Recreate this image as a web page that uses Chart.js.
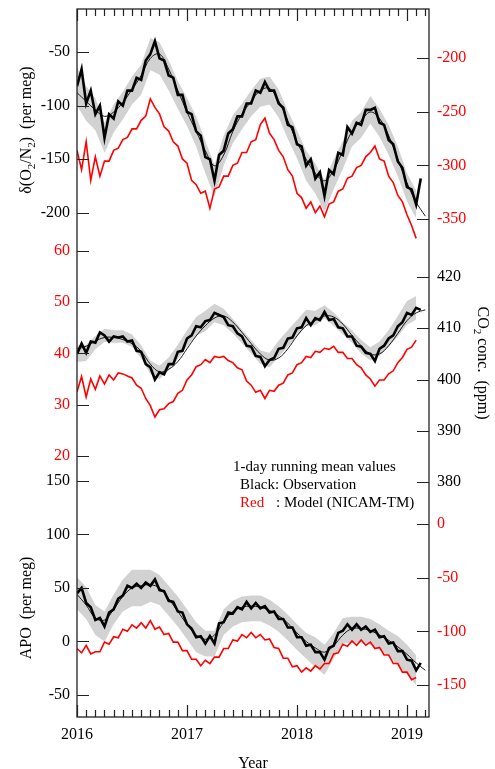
<!DOCTYPE html>
<html>
<head>
<meta charset="utf-8">
<script src="https://cdn.jsdelivr.net/npm/chart.js@4.4.1/dist/chart.umd.min.js"></script>
<style>
  html, body { margin: 0; background: #fff; }
  #wrap { position: relative; width: 495px; height: 769px; }
</style>
</head>
<body>
<div id="wrap"><canvas id="chart"></canvas></div>
<script>
"use strict";

// #region Data (half-monthly samples, from 2016.0)
const o2Obs = [-82,-66,-98,-86,-108,-100,-130,-108,-112,-96,-100,-86,-86,-74,-76,-58,-52,-40,-56,-58,-72,-74,-90,-90,
  -106,-108,-124,-128,-148,-150,-170,-146,-142,-126,-122,-110,-110,-98,-98,-86,-88,-78,-86,-86,-98,-102,-118,-120,
  -136,-138,-156,-150,-168,-162,-184,-160,-164,-144,-146,-120,-126,-116,-118,-104,-104,-102,-116,-118,-132,-136,-152,-158,
  -176,-178,-192,-168];
const o2Model = [-286,-304,-278,-314,-292,-310,-296,-296,-286,-284,-276,-274,-266,-266,-258,-254,-238,-246,-252,-264,-268,-278,-282,-294,
  -298,-314,-318,-326,-324,-340,-322,-320,-310,-310,-300,-298,-288,-288,-278,-276,-262,-256,-270,-276,-286,-292,-304,-310,
  -326,-330,-340,-334,-344,-338,-348,-336,-334,-324,-322,-312,-310,-302,-300,-292,-288,-282,-294,-296,-310,-316,-328,-334,
  -346,-356,-368,null];
const co2Obs = [405.0,407.0,405.2,407.4,407.2,409.2,408.6,407.4,408.4,408.2,408.4,407.4,407.6,405.6,405.4,403.0,402.4,400.0,401.4,401.0,403.0,403.0,405.4,405.6,
  408.0,408.6,410.4,410.2,411.4,411.6,413.0,412.6,412.2,410.6,410.4,409.0,408.4,406.6,406.4,404.6,404.4,402.6,403.8,404.2,406.0,406.2,408.0,408.2,
  410.0,410.2,412.0,410.6,412.0,411.6,413.2,411.6,411.8,410.2,410.0,408.4,408.4,406.6,406.4,405.2,405.0,403.6,406.0,406.6,408.0,408.6,410.4,411.2,
  413.0,412.6,414.0,413.6];
const co2Model = [32.5,35.5,31.5,35.0,33.0,35.6,34.0,35.8,34.8,36.2,36.0,35.6,35.2,33.8,33.2,31.2,29.8,27.6,29.0,29.2,30.2,30.6,32.2,32.8,
  34.8,35.8,37.4,37.8,38.8,38.2,39.4,39.2,39.4,38.6,38.2,37.2,36.8,34.6,33.8,32.4,32.8,31.2,32.8,32.6,33.8,34.2,35.8,36.2,
  37.8,38.2,39.4,39.2,40.4,40.2,41.0,40.8,41.4,40.2,40.2,39.0,39.0,37.8,37.2,35.8,35.0,33.6,34.8,34.8,36.0,36.6,38.2,39.2,
  40.8,41.2,42.6,null];
const apoObs = [45,50,36,32,20,22,14,27,30,40,43,52,50,54,50,55,52,58,48,47,38,37,28,27,
  16,12,4,5,-2,5,-2,17,18,27,26,32,30,37,31,36,31,33,27,28,21,21,13,13,
  4,4,-4,-3,-10,-10,-17,-6,-4,8,10,16,11,16,11,14,9,11,4,5,-2,-1,-9,-9,
  -17,-18,-27,-20];
const apoModel = [-116,-120,-113,-121,-119,-119,-110,-112,-105,-106,-98,-100,-94,-97,-92,-97,-90,-98,-96,-103,-102,-110,-110,-118,
  -118,-126,-126,-132,-127,-130,-124,-124,-116,-116,-108,-109,-103,-106,-101,-106,-103,-108,-107,-115,-116,-125,-125,-133,
  -132,-138,-134,-137,-132,-135,-130,-130,-121,-120,-112,-114,-109,-113,-108,-113,-110,-116,-115,-122,-122,-130,-130,-138,
  -138,-145,-143,null];

// smooth curve fitted to the observations, monthly from 2016.0
const o2Fit = [-88,-96,-104,-110,-106,-97,-85,-72,-56,-52,-66,-86, -106,-124,-142,-156,-146,-124,-108,-96,-86,-84,-96,-114,
  -134,-150,-163,-170,-160,-142,-124,-114,-106,-112,-128,-150, -172,-190,-203];
const co2Fit = [406,406.5,407.5,408.2,408.2,407.8,407,405.5,403,401.5,402,403.5, 406,408.5,410.5,412,412.4,411.2,409.2,407,405,403.8,404.2,406,
  408.5,410.5,411.5,412.4,412.2,410.8,408.6,406.6,405,405,406.6,409, 411.5,413,413.6];
const apoFit = [44,34,22,20,30,42,50,52,53,50,40,28, 16,6,2,6,18,28,32,33,32,29,24,17, 8,0,-6,-10,-4,6,12,12,10,6,1,-5, -12,-20,-27];

// half-width of the grey cloud of single measurements, monthly
const o2Spread = [18,16,15,14,13,13,13,14,15,15,14,13, 13,14,15,15,14,13,12,12,13,13,13,13, 13,14,14,15,14,13,12,12,13,13,14,14, 13,13];
const co2Spread = [1.6,1.6,1.3,1.3,1.2,1.2,1.2,1.3,1.3,1.3,1.3,1.4, 1.6,1.8,2.0,1.8,1.6,1.4,1.3,1.3,1.3,1.4,1.6,1.6,
  1.6,1.6,1.4,1.3,1.3,1.2,1.2,1.3,1.3,1.4,1.6,2.0, 2.3,2.3];
const apoSpread = [15,15,14,14,14,15,17,17,15,14,14,14, 14,14,12,12,12,12,12,12,12,12,12,12, 12,12,14,14,12,12,12,12,12,12,12,14, 14,14];

const yearTicks = [2016, 2017, 2018, 2019];
const o2Ticks = [-200, -150, -100, -50];
const o2ModelTicks = [-350, -300, -250, -200];
const co2ModelTicks = [20, 30, 40, 50, 60];
const co2Ticks = [380, 390, 400, 410, 420];
const apoTicks = [-50, 0, 50, 100, 150];
const apoModelTicks = [-150, -100, -50, 0];
// #endregion

const RED = "#ff0000";
const GREY = "#d2d2d2";
const SERIF = '"Liberation Serif", "Times New Roman", serif';
const tickFont = { family: SERIF, size: 16 };

// sampling grids: half-monthly for the running means, monthly for fits and ticks
const times = o2Obs.map((_, i) => 2016 + i / 24);
const monthTicks = o2Fit.map((_, m) => 2016 + m / 12);

const toPoints = (arr) => arr.map((v, i) => ({ x: times[i], y: v }));
const bandPoints = (obs, spread, sign) => spread.map((s, m) => ({ x: times[2 * m], y: obs[2 * m] + sign * s }));

// #region Datasets
function band(obs, spread, axis) {
    return [
        { data: bandPoints(obs, spread, 1), yAxisID: axis, borderWidth: 0, backgroundColor: GREY, fill: "+1", order: 4 },
        { data: bandPoints(obs, spread, -1), yAxisID: axis, borderWidth: 0, fill: false, order: 4 },
    ];
}
function line(values, axis, colour, width) {
    return { data: toPoints(values), yAxisID: axis, borderColor: colour, borderWidth: width, fill: false, order: colour === RED ? 3 : 2 };
}
function fit(values, axis) {
    return { data: values.map((v, m) => ({ x: monthTicks[m], y: v })), yAxisID: axis, borderColor: "#000", borderWidth: 0.9, fill: false, tension: 0.4, order: 1 };
}

const datasets = [
    ...band(o2Obs, o2Spread, "yO2"),
    ...band(co2Obs, co2Spread, "yCO2"),
    ...band(apoObs, apoSpread, "yApo"),
    line(o2Model, "yO2m", RED, 1.6),
    line(co2Model, "yCO2m", RED, 1.6),
    line(apoModel, "yApom", RED, 1.6),
    line(o2Obs, "yO2", "#000", 2.6),
    line(co2Obs, "yCO2", "#000", 2.6),
    line(apoObs, "yApo", "#000", 2.6),
    fit(o2Fit, "yO2"),
    fit(co2Fit, "yCO2"),
    fit(apoFit, "yApo"),
];
// #endregion

// #region Scales
function yAxis(position, min, max, ticks, colour, width) {
    return {
        type: "linear",
        position: position,
        min: min,
        max: max,
        weight: width ? 1 : 0,
        grid: { display: false, drawTicks: false },
        border: { display: false },
        ticks: { color: colour, font: tickFont, padding: position === "left" ? 7 : 8, callback: (v) => String(v) },
        afterBuildTicks: (s) => { s.ticks = ticks.map((v) => ({ value: v })); },
        afterFit: (s) => { s.width = width; s.paddingTop = 0; s.paddingBottom = 0; },
    };
}

const scales = {
    x: {
        type: "linear",
        min: 2016,
        max: 2019.2,
        grid: { display: false, drawTicks: false },
        border: { display: false },
        ticks: { color: "#000", font: tickFont, padding: 8, maxRotation: 0, callback: (v) => String(v) },
        afterBuildTicks: (s) => { s.ticks = yearTicks.map((v) => ({ value: v })); },
        afterFit: (s) => { s.height = 52; s.paddingLeft = 0; s.paddingRight = 0; },
        title: { display: true, text: "Year", color: "#000", font: { family: SERIF, size: 16 }, padding: { top: 0, bottom: -4 } },
    },
    yO2: yAxis("left", -669.6, -10, o2Ticks, "#000", 77),
    yCO2m: yAxis("left", -30.95, 107.2, co2ModelTicks, RED, 0),
    yApo: yAxis("left", -70.6, 591.1, apoTicks, "#000", 0),
    yO2m: yAxis("right", -813.9, -154.3, o2ModelTicks, RED, 66),
    yCO2: yAxis("right", 334.15, 472.3, co2Ticks, "#000", 0),
    yApom: yAxis("right", -179.8, 479.8, apoModelTicks, RED, 0),
};
// #endregion

// #region Frame, ticks, titles and key
function drawRich(ctx, parts, cx, cy, angle, size) {
    const big = `${size}px ${SERIF}`;
    const small = `${Math.round(size * 0.68)}px ${SERIF}`;
    ctx.save();
    ctx.translate(cx, cy);
    ctx.rotate(angle);
    let w = 0;
    parts.forEach((p) => { ctx.font = p.sub ? small : big; w += ctx.measureText(p.text).width; });
    let x = -w / 2;
    ctx.textBaseline = "middle";
    ctx.textAlign = "left";
    ctx.fillStyle = "#000";
    parts.forEach((p) => {
        ctx.font = p.sub ? small : big;
        ctx.fillText(p.text, x, p.sub ? size * 0.3 : 0);
        x += ctx.measureText(p.text).width;
    });
    ctx.restore();
}

const framePlugin = {
    id: "frame",
    // the panel axes share one side each: give every one the full label strip so labels are not clipped
    afterLayout(chart) {
        const a = chart.chartArea;
        Object.values(chart.scales).forEach((s) => {
            if (s.position === "left") { s.left = 0; s.right = a.left; }
            if (s.position === "right") { s.left = a.right; s.right = chart.width; }
        });
    },
    afterDraw(chart) {
        const { ctx, chartArea: a } = chart;
        ctx.save();
        ctx.strokeStyle = "#222";
        ctx.lineWidth = 1.3;
        ctx.strokeRect(a.left, a.top, a.right - a.left, a.bottom - a.top);

        // y ticks point into the plot
        ctx.lineWidth = 1.2;
        ctx.beginPath();
        ["yO2", "yCO2m", "yApo", "yO2m", "yCO2", "yApom"].forEach((id) => {
            const s = chart.scales[id];
            const left = s.position === "left";
            s.ticks.forEach((t) => {
                const y = Math.round(s.getPixelForValue(t.value)) + 0.5;
                const x0 = left ? a.left : a.right;
                ctx.moveTo(x0, y);
                ctx.lineTo(left ? x0 + 12 : x0 - 12, y);
            });
        });
        // monthly ticks on top and bottom, longer on the years
        const xs = chart.scales.x;
        monthTicks.forEach((t, m) => {
            const x = Math.round(xs.getPixelForValue(t)) + 0.5;
            const len = m % 12 === 0 ? 12 : 7;
            ctx.moveTo(x, a.bottom);
            ctx.lineTo(x, a.bottom - len);
            ctx.moveTo(x, a.top);
            ctx.lineTo(x, a.top + len);
        });
        ctx.stroke();

        drawRich(ctx, [{ text: "\u03b4(O" }, { text: "2", sub: true }, { text: "/N" }, { text: "2", sub: true }, { text: ")  (per meg)" }],
            27, 130, -Math.PI / 2, 16);
        drawRich(ctx, [{ text: "APO  (per meg)" }], 27, 608, -Math.PI / 2, 16);
        drawRich(ctx, [{ text: "CO" }, { text: "2", sub: true }, { text: " conc.  (ppm)" }], 482, 363, Math.PI / 2, 16);

        ctx.font = `15px ${SERIF}`;
        ctx.textBaseline = "alphabetic";
        ctx.textAlign = "left";
        ctx.fillStyle = "#000";
        ctx.fillText("1-day running mean values", 233, 471);
        ctx.fillText("Black: Observation", 240, 489);
        ctx.fillText(": Model (NICAM-TM)", 276, 507);
        ctx.fillStyle = RED;
        ctx.fillText("Red", 240, 507);
        ctx.restore();
    },
};
// #endregion

const myChart = new Chart(document.getElementById("chart"), {
    type: "line",
    data: { datasets: datasets },
    options: {
        responsive: true,
        maintainAspectRatio: false,
        animation: false,
        layout: { padding: { top: 9, left: 0, right: 0, bottom: 0 } },
        elements: { point: { radius: 0 }, line: { tension: 0 } },
        plugins: { legend: { display: false }, tooltip: { enabled: false } },
        scales: scales,
    },
    plugins: [framePlugin],
});
</script>
</body>
</html>
